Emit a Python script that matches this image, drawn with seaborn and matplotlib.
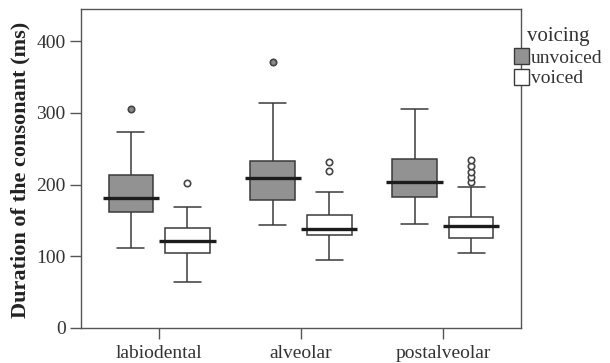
import numpy as np
import pandas as pd
import matplotlib
matplotlib.use("Agg")
import matplotlib.pyplot as plt
from matplotlib.patches import Patch
import seaborn as sns

# Place of articulation (x categories) and voicing (hue levels)
places = ["labiodental", "alveolar", "postalveolar"]
voicing_levels = ["unvoiced", "voiced"]

# Five-number summaries per place, in ms
whisker_lo_unvoiced = [112, 143, 145]
q1_unvoiced = [162, 178, 183]
median_unvoiced = [182, 209, 203]
q3_unvoiced = [214, 233, 236]
whisker_hi_unvoiced = [273, 314, 306]
outliers_unvoiced = [[306], [371], []]

whisker_lo_voiced = [64, 95, 105]
q1_voiced = [105, 130, 125]
median_voiced = [121, 138, 142]
q3_voiced = [140, 158, 155]
whisker_hi_voiced = [169, 190, 197]
outliers_voiced = [[202], [219, 231], [204, 211, 218, 226, 235]]

y_ticks = [0, 100, 200, 300, 400]


def sample_from_summary(lo, q1, med, q3, hi, fliers):
    """Ordered sample of size 4k+1 whose quartiles, whiskers and fliers
    reproduce the given summary exactly under linear percentiles."""
    top = [hi] + sorted(fliers)
    k = len(top)
    return [lo] + [q1] * k + [med] * k + [q3] * k + top


rows = []
summaries = {
    "unvoiced": (whisker_lo_unvoiced, q1_unvoiced, median_unvoiced,
                 q3_unvoiced, whisker_hi_unvoiced, outliers_unvoiced),
    "voiced": (whisker_lo_voiced, q1_voiced, median_voiced,
               q3_voiced, whisker_hi_voiced, outliers_voiced),
}
for level, (lo, q1, med, q3, hi, fl) in summaries.items():
    for i, place in enumerate(places):
        for v in sample_from_summary(lo[i], q1[i], med[i], q3[i], hi[i], fl[i]):
            rows.append({"place": place, "voicing": level, "duration": v})
df = pd.DataFrame(rows)

sns.set_style("ticks")
plt.rcParams["font.family"] = ["Liberation Serif", "DejaVu Serif"]

box_gray = "#929292"
edge = "#3a3a3a"
frame = "#555555"
palette = {"unvoiced": box_gray, "voiced": "white"}
flier_faces = {"unvoiced": "#8a8a8a", "voiced": "white"}

fig = plt.figure(figsize=(6.10, 3.63), dpi=100)
ax = fig.add_axes([81 / 610, 1 - 328 / 363, 440 / 610, 319 / 363])

for level in voicing_levels:
    sns.boxplot(
        data=df[df["voicing"] == level], x="place", y="duration",
        hue="voicing", order=places, hue_order=voicing_levels,
        palette=palette, saturation=1, dodge=True, width=0.8, gap=0.22,
        linewidth=1.1, linecolor=edge, legend=False, ax=ax,
        medianprops=dict(gid="median", color="#1c1c1c", linewidth=2.4),
        capprops=dict(gid="cap", color=edge, linewidth=1.1),
        whiskerprops=dict(color=edge, linewidth=1.1),
        flierprops=dict(marker="o", markersize=4.6,
                        markerfacecolor=flier_faces[level],
                        markeredgecolor="#444444", markeredgewidth=1.2),
    )

# Median bars overhang the boxes a little; caps are a bit wider than default
median_ext = 0.042
cap_scale = 1.22
for line in ax.lines:
    gid = line.get_gid()
    xs = np.asarray(line.get_xdata(), dtype=float)
    if xs.size < 2:
        continue
    c = xs.mean()
    half = (xs.max() - xs.min()) / 2
    if gid == "median":
        line.set_xdata([c - half - median_ext, c + half + median_ext])
    elif gid == "cap":
        line.set_xdata([c - half * cap_scale, c + half * cap_scale])

ax.set_xlim(-0.55, 2.55)
ax.set_ylim(0, 445)
ax.set_yticks(y_ticks)
ax.set_xlabel("")
ax.set_ylabel("Duration of the consonant (ms)", fontsize=16,
              fontweight="bold", color="#222222")
ax.yaxis.set_label_coords(-0.114, 0.495)

for side in ["left", "right", "top", "bottom"]:
    ax.spines[side].set_visible(True)
    ax.spines[side].set_color(frame)
    ax.spines[side].set_linewidth(1.0)
ax.tick_params(axis="both", length=8, width=1, color=frame,
               labelsize=14, labelcolor="#333333", pad=3)
ax.tick_params(axis="x", pad=4)

handles = [Patch(facecolor=palette[l], edgecolor=edge, linewidth=1.0)
           for l in voicing_levels]
leg = ax.legend(handles, voicing_levels, title="voicing", loc="upper left",
                bbox_to_anchor=(514 / 610, 1 - 27 / 363),
                bbox_transform=fig.transFigure, frameon=False,
                fontsize=14, title_fontsize=15, handlelength=0.75,
                handleheight=0.9, handletextpad=0.1, labelspacing=0.1,
                borderpad=0, borderaxespad=0)
for t in leg.get_texts():
    t.set_color("#333333")
leg.get_title().set_color("#333333")

fig.savefig("out.png", dpi=100)
